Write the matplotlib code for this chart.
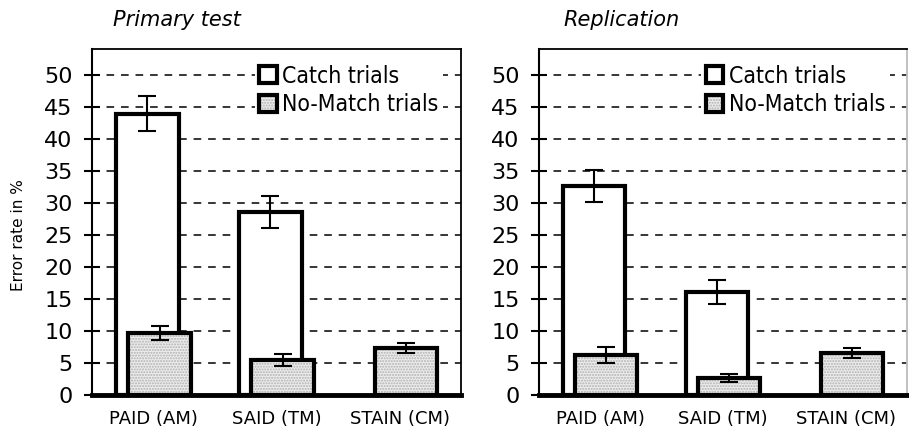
import matplotlib
matplotlib.use("Agg")
import matplotlib.pyplot as plt
import numpy as np
from matplotlib.patches import Patch
from matplotlib.legend_handler import HandlerTuple
from matplotlib import font_manager as fm

categories = ["PAID (AM)", "SAID (TM)", "STAIN (CM)"]
panel_titles = ["Primary test", "Replication"]

# Primary test
primary_catch = [43.9, 28.5, np.nan]
primary_catch_err = [2.7, 2.5, np.nan]
primary_nomatch = [9.7, 5.5, 7.3]
primary_nomatch_err = [1.1, 0.95, 0.75]

# Replication
repl_catch = [32.6, 16.1, np.nan]
repl_catch_err = [2.45, 1.9, np.nan]
repl_nomatch = [6.25, 2.65, 6.6]
repl_nomatch_err = [1.2, 0.65, 0.8]

yticks = [0, 5, 10, 15, 20, 25, 30, 35, 40, 45, 50]

plt.rcParams['font.family'] = ['DejaVu Sans']

try:
    _p = fm.findfont(fm.FontProperties(family='DejaVu Sans', stretch='condensed'),
                     fallback_to_default=False)
    has_cond = 'Condensed' in _p
except Exception:
    has_cond = False
if has_cond:
    legend_prop = fm.FontProperties(family='DejaVu Sans', stretch='condensed', size=16.5)
else:
    legend_prop = fm.FontProperties(family='DejaVu Sans', size=15)

fig = plt.figure(figsize=(9.09, 4.38), dpi=100)
ax1 = fig.add_axes([0.1012, 0.0982, 0.406, 0.790])
ax2 = fig.add_axes([0.593, 0.0982, 0.405, 0.790])

panels = [
    (ax1, primary_catch, primary_catch_err, primary_nomatch, primary_nomatch_err, panel_titles[0], 0.057),
    (ax2, repl_catch, repl_catch_err, repl_nomatch, repl_nomatch_err, panel_titles[1], 0.065),
]

x = np.arange(len(categories))
w = 0.505
off = 0.049
fill_grey = '#ededed'
dot_grey = '#b0b0b0'

for ax, catch, catch_err, nm, nm_err, title, tx in panels:
    ax.set_xlim(-0.5, 2.5)
    ax.set_ylim(0, 54)
    for yv in yticks[1:]:
        ax.axhline(yv, color='black', lw=1.1, ls=(0, (5, 4.5)), zorder=0)
    # catch bars
    ax.bar(x - off, catch, width=w, facecolor='white', edgecolor='black', lw=3, zorder=2)
    ax.errorbar(x - off, catch, yerr=catch_err, fmt='none', ecolor='black',
                elinewidth=1.5, capsize=6.5, capthick=1.5, zorder=3)
    # no-match bars (stippled fill + outline)
    ax.bar(x + off, nm, width=w, facecolor=fill_grey, edgecolor=dot_grey, hatch='......', lw=0, zorder=4)
    ax.bar(x + off, nm, width=w, fill=False, edgecolor='black', lw=3, zorder=5)
    ax.errorbar(x + off, nm, yerr=nm_err, fmt='none', ecolor='black',
                elinewidth=1.5, capsize=6.5, capthick=1.5, zorder=6)

    ax.set_yticks(yticks)
    ax.set_yticklabels([str(v) for v in yticks], fontsize=16)
    ax.tick_params(axis='y', direction='inout', length=12, width=1.5, pad=8)
    ax.set_xticks(x)
    ax.set_xticklabels(categories, fontsize=13)
    ax.tick_params(axis='x', length=0, pad=11)

    ax.spines['bottom'].set_linewidth(3.5)
    ax.spines['left'].set_linewidth(1.5)
    ax.spines['top'].set_linewidth(1.3)
    ax.spines['right'].set_linewidth(1.3)

    ax.text(tx, 1.083, title, transform=ax.transAxes, fontsize=15, style='italic',
            ha='left', va='center')

    h_catch = Patch(facecolor='white', edgecolor='black', lw=3)
    h_nm_fill = Patch(facecolor=fill_grey, edgecolor=dot_grey, hatch='......', lw=0)
    h_nm_edge = Patch(fill=False, edgecolor='black', lw=3)
    leg = ax.legend([h_catch, (h_nm_fill, h_nm_edge)], ["Catch trials", "No-Match trials"],
                    handler_map={tuple: HandlerTuple(ndivide=1, pad=0)},
                    loc='upper right', bbox_to_anchor=(0.952, 0.968), prop=legend_prop,
                    frameon=True, facecolor='white', edgecolor='none', framealpha=1,
                    fancybox=False, borderpad=0.2, handlelength=0.75, handleheight=0.75,
                    handletextpad=0.25, labelspacing=0.25, borderaxespad=0)
    leg.set_zorder(10)

ax1.spines['right'].set_color('black')
ax2.spines['right'].set_color('#bbbbbb')

fig.text(19 / 909, 0.463, "Error rate in %", rotation=90, fontsize=11,
         ha='center', va='center')

fig.savefig("out.png", dpi=100)
